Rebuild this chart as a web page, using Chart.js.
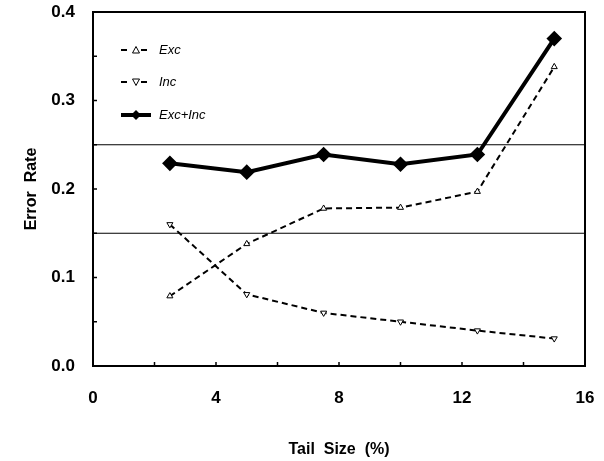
<!DOCTYPE html>
<html>
<head>
<meta charset="utf-8">
<script src="https://cdn.jsdelivr.net/npm/chart.js@4"></script>
<style>
  html, body { margin: 0; padding: 0; background: #fff; }
  #wrap { width: 604px; height: 461px; }
</style>
</head>
<body>
<div id="wrap"><canvas id="errChart" width="604" height="461"></canvas></div>
<script>
// tail sizes (%) and error rates
const tailSizes = [2.5, 5, 7.5, 10, 12.5, 15];
const excRate = [0.079, 0.138, 0.178, 0.179, 0.197, 0.338];
const incRate = [0.160, 0.081, 0.060, 0.050, 0.040, 0.031];
const sumRate = [0.229, 0.219, 0.239, 0.228, 0.239, 0.370];
const refLevels = [0.25, 0.15];
const xTicks = [0, 4, 8, 12, 16];
const yTicks = [0.0, 0.1, 0.2, 0.3, 0.4];
const legendLabels = ['Exc', 'Inc', 'Exc+Inc'];

const toPoints = (ys) => ys.map((y, i) => ({ x: tailSizes[i], y: y }));

// small inward tick marks on the left and bottom frame
const innerTicks = {
  id: 'innerTicks',
  afterDraw(chart) {
    const { ctx, chartArea, scales } = chart;
    ctx.save();
    ctx.strokeStyle = '#000';
    ctx.lineWidth = 1.5;
    for (let v = 0.05; v < 0.4; v += 0.05) {
      const y = scales.y.getPixelForValue(v);
      ctx.beginPath();
      ctx.moveTo(chartArea.left, y);
      ctx.lineTo(chartArea.left + 4, y);
      ctx.stroke();
    }
    for (let v = 2; v < 16; v += 2) {
      const x = scales.x.getPixelForValue(v);
      ctx.beginPath();
      ctx.moveTo(x, chartArea.bottom);
      ctx.lineTo(x, chartArea.bottom - 4);
      ctx.stroke();
    }
    ctx.restore();
  }
};

// legend drawn inside the plot, top-left
const innerLegend = {
  id: 'innerLegend',
  afterDraw(chart) {
    const { ctx, chartArea } = chart;
    const x0 = chartArea.left + 28;
    const x1 = chartArea.left + 58;
    const rows = [chartArea.top + 38, chartArea.top + 70, chartArea.top + 103];
    ctx.save();
    ctx.strokeStyle = '#000';
    ctx.fillStyle = '#000';
    rows.forEach((y, i) => {
      const ds = chart.data.datasets[i];
      ctx.lineWidth = ds.borderWidth;
      ctx.setLineDash(ds.borderDash || []);
      ctx.beginPath();
      ctx.moveTo(x0, y);
      ctx.lineTo(x1, y);
      ctx.stroke();
      ctx.setLineDash([]);
      const mx = (x0 + x1) / 2;
      ctx.lineWidth = 1;
      ctx.fillStyle = '#fff';
      ctx.fillRect(mx - 5, y - 5, 10, 10);
      ctx.fillStyle = '#000';
      ctx.beginPath();
      if (i === 0) {
        ctx.moveTo(mx, y - 3.5); ctx.lineTo(mx + 3.5, y + 3); ctx.lineTo(mx - 3.5, y + 3); ctx.closePath(); ctx.stroke();
      } else if (i === 1) {
        ctx.moveTo(mx, y + 3.5); ctx.lineTo(mx + 3.5, y - 3); ctx.lineTo(mx - 3.5, y - 3); ctx.closePath(); ctx.stroke();
      } else {
        ctx.lineWidth = 4;
        ctx.beginPath(); ctx.moveTo(x0, y); ctx.lineTo(x1, y); ctx.stroke();
        ctx.beginPath();
        ctx.moveTo(mx, y - 5); ctx.lineTo(mx + 5, y); ctx.lineTo(mx, y + 5); ctx.lineTo(mx - 5, y); ctx.closePath(); ctx.fill();
      }
      ctx.font = 'italic 13px "Liberation Sans", Arial, sans-serif';
      ctx.textBaseline = 'middle';
      ctx.fillText(legendLabels[i], x1 + 8, y);
    });
    ctx.restore();
  }
};

const ctx = document.getElementById('errChart').getContext('2d');
new Chart(ctx, {
  type: 'line',
  data: {
    datasets: [
      {
        label: legendLabels[0],
        data: toPoints(excRate),
        borderColor: '#000',
        backgroundColor: '#fff',
        borderWidth: 2,
        borderDash: [6, 4],
        pointStyle: 'triangle',
        pointRadius: 3.5,
        pointBorderWidth: 1,
        pointBackgroundColor: '#fff',
        pointBorderColor: '#000'
      },
      {
        label: legendLabels[1],
        data: toPoints(incRate),
        borderColor: '#000',
        backgroundColor: '#fff',
        borderWidth: 2,
        borderDash: [6, 4],
        pointStyle: 'triangle',
        pointRotation: 180,
        pointRadius: 3.5,
        pointBorderWidth: 1,
        pointBackgroundColor: '#fff',
        pointBorderColor: '#000'
      },
      {
        label: legendLabels[2],
        data: toPoints(sumRate),
        borderColor: '#000',
        backgroundColor: '#000',
        borderWidth: 4,
        pointStyle: 'rectRot',
        pointRadius: 5,
        pointBackgroundColor: '#000',
        pointBorderColor: '#000'
      },
      ...refLevels.map((lv) => ({
        label: 'ref',
        data: [{ x: xTicks[0], y: lv }, { x: xTicks[xTicks.length - 1], y: lv }],
        borderColor: '#000',
        borderWidth: 1.2,
        pointRadius: 0
      }))
    ]
  },
  options: {
    responsive: false,
    animation: false,
    layout: { padding: { top: 12, right: 19, left: 0, bottom: 0 } },
    plugins: {
      legend: { display: false },
      tooltip: { enabled: false }
    },
    scales: {
      x: {
        type: 'linear',
        min: 0,
        max: 16,
        afterBuildTicks: (axis) => { axis.ticks = xTicks.map((v) => ({ value: v })); },
        afterFit: (axis) => {
          axis.height = 95;
          axis.paddingLeft = 0;
          axis.paddingRight = 0;
        },
        grid: { display: false, drawTicks: false },
        border: { display: true, color: '#000', width: 2 },
        ticks: {
          padding: 22,
          color: '#000',
          font: { family: '"Liberation Sans", Arial, sans-serif', size: 17, weight: 'bold' },
          callback: (v) => String(v)
        },
        title: {
          display: true,
          text: 'Tail  Size  (%)',
          color: '#000',
          padding: { top: 0, bottom: 2 },
          font: { family: '"Liberation Sans", Arial, sans-serif', size: 16, weight: 'bold' }
        }
      },
      y: {
        min: 0,
        max: 0.4,
        afterBuildTicks: (axis) => { axis.ticks = yTicks.map((v) => ({ value: v })); },
        afterFit: (axis) => {
          axis.width = 93;
          axis.paddingTop = 0;
          axis.paddingBottom = 0;
        },
        grid: { display: false, drawTicks: false },
        border: { display: true, color: '#000', width: 2 },
        ticks: {
          padding: 18,
          color: '#000',
          font: { family: '"Liberation Sans", Arial, sans-serif', size: 17, weight: 'bold' },
          callback: (v) => v.toFixed(1)
        },
        title: {
          display: true,
          text: 'Error  Rate',
          color: '#000',
          padding: { top: 22, bottom: 0 },
          font: { family: '"Liberation Sans", Arial, sans-serif', size: 16, weight: 'bold' }
        }
      }
    }
  },
  plugins: [innerTicks, innerLegend, {
    // close the frame on top and right
    id: 'frame',
    afterDraw(chart) {
      const { ctx, chartArea } = chart;
      ctx.save();
      ctx.strokeStyle = '#000';
      ctx.lineWidth = 2;
      ctx.strokeRect(chartArea.left, chartArea.top, chartArea.right - chartArea.left, chartArea.bottom - chartArea.top);
      ctx.restore();
    }
  }]
});
</script>
</body>
</html>
